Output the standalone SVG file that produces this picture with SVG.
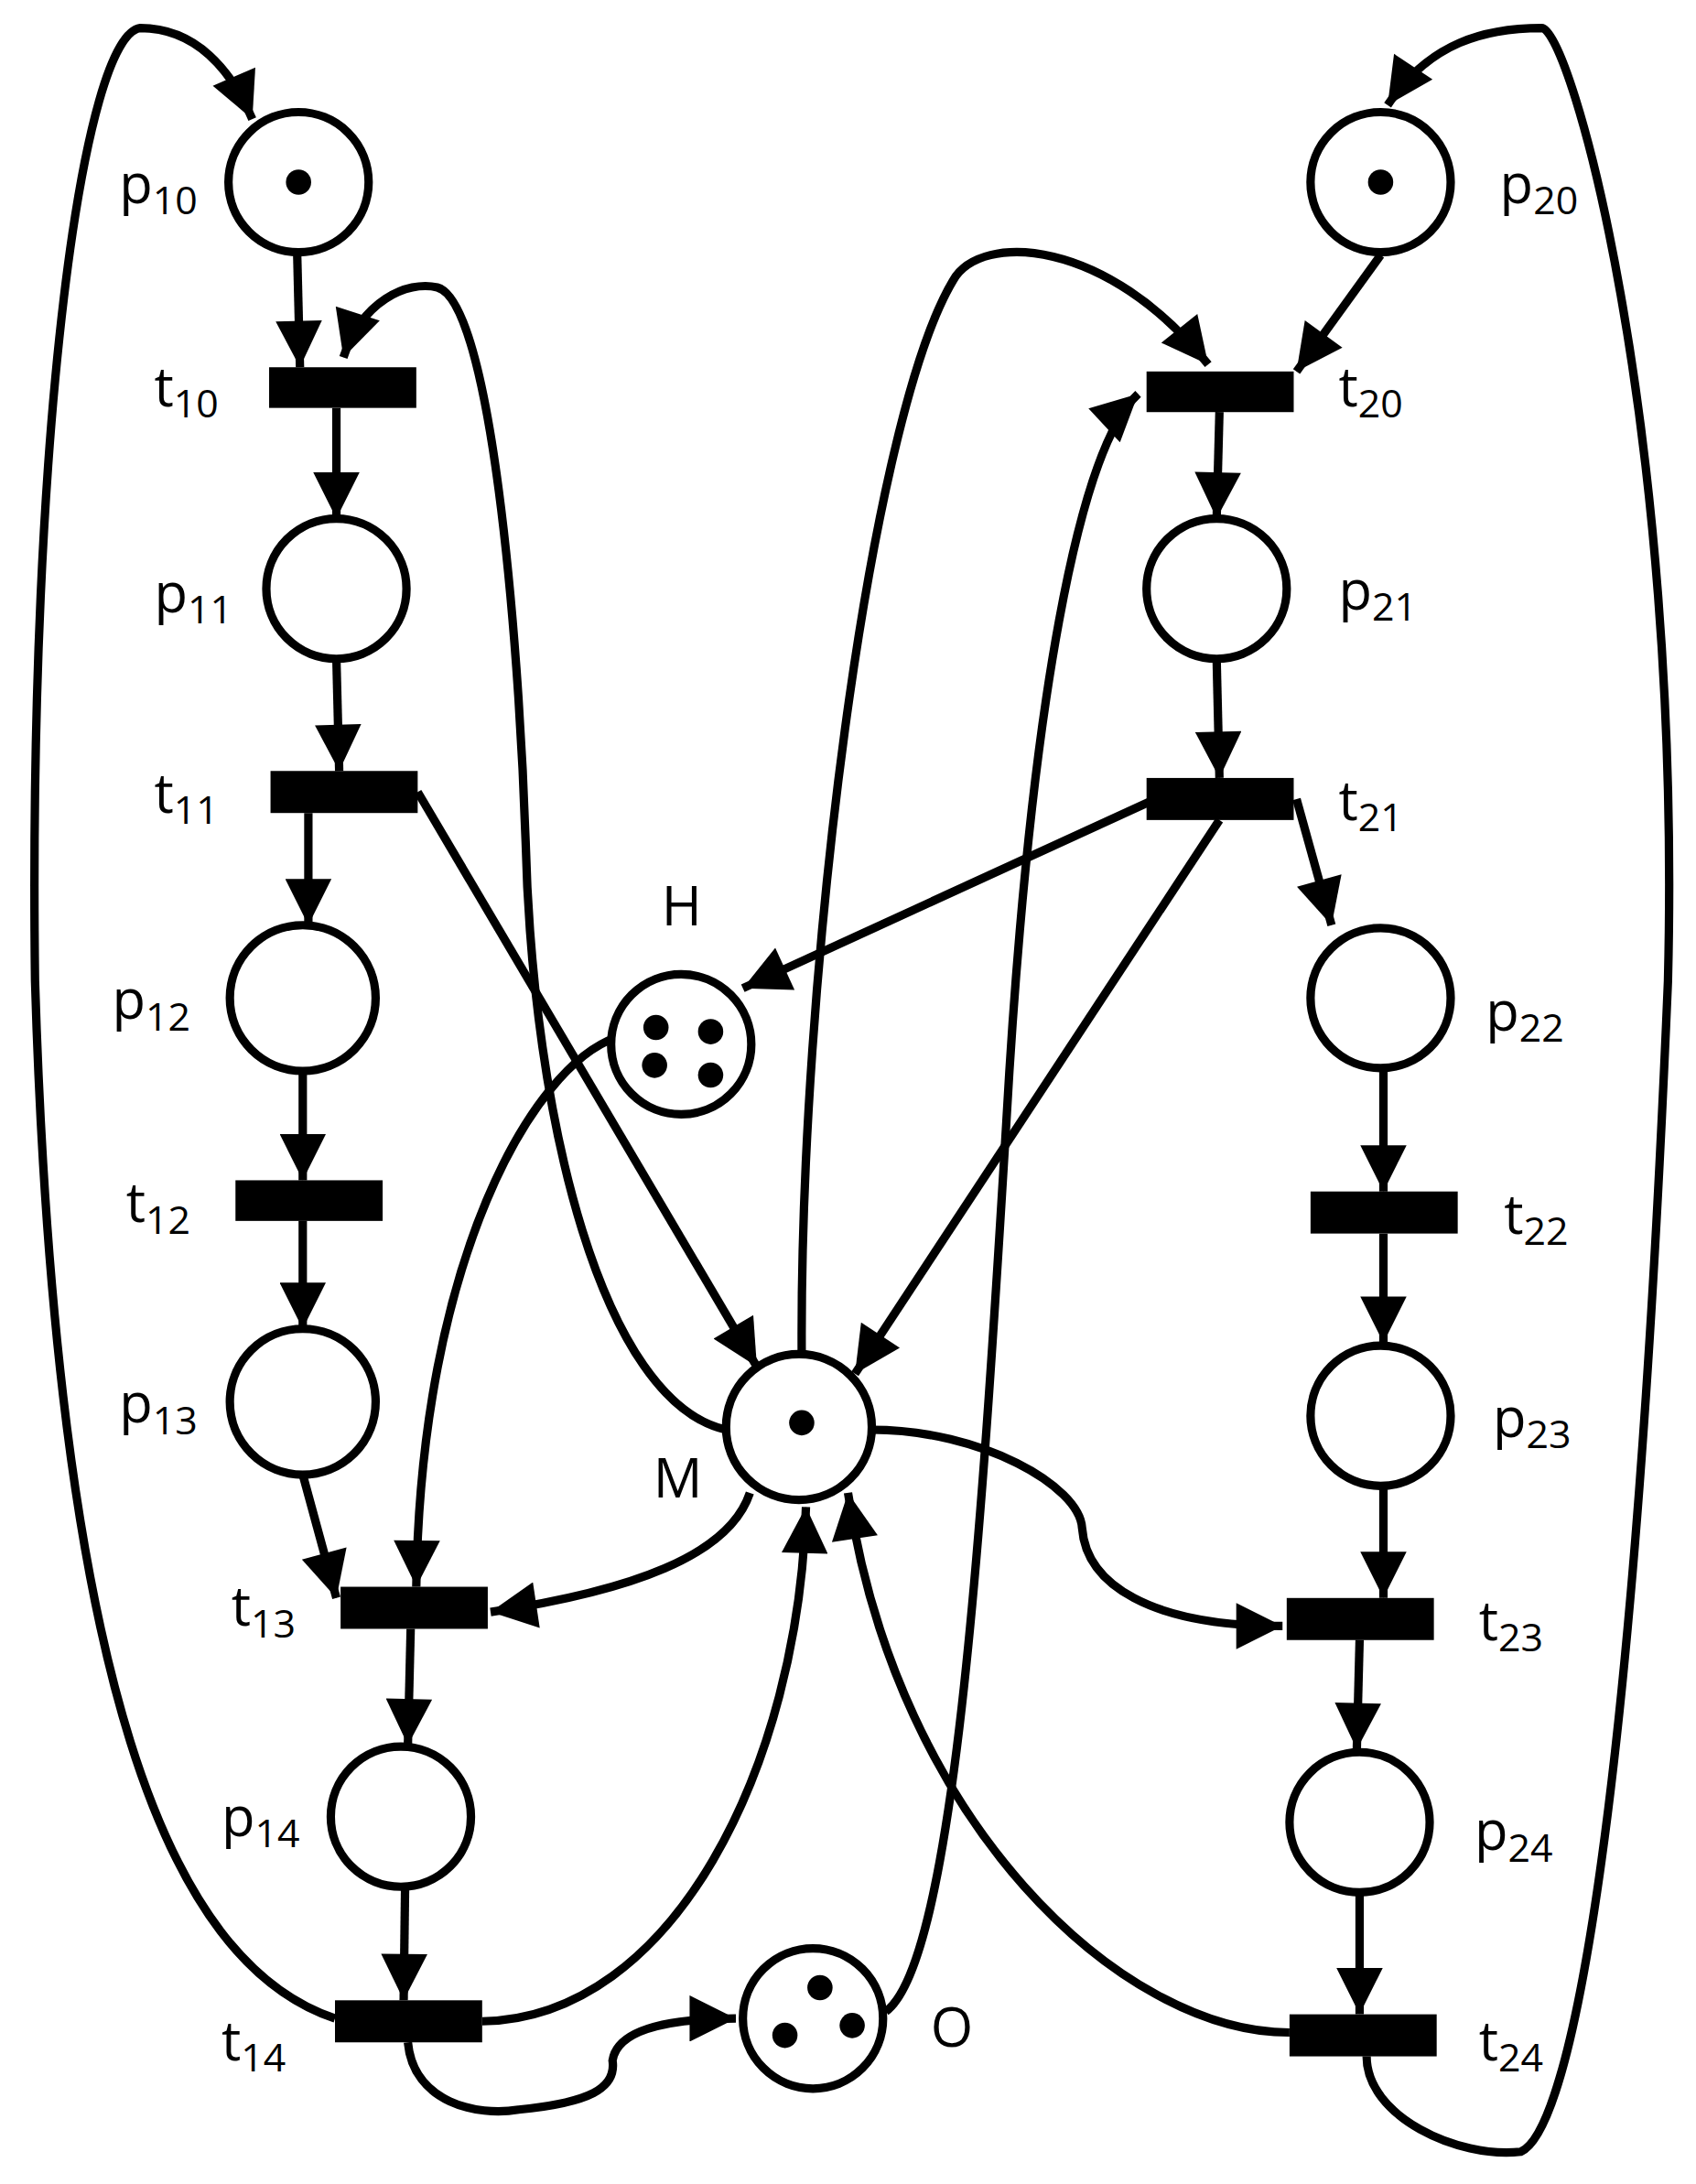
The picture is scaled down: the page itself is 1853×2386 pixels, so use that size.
<svg xmlns="http://www.w3.org/2000/svg" width="1853" height="2386" viewBox="0 0 1853 2386">
<defs>
<style>
.pl{fill:#fff;stroke:#000;stroke-width:6}
.tr{fill:#000}
.tk{fill:#000}
.e{fill:none;stroke:#000;stroke-width:6}
.lb{font-family:"Open Sans","Liberation Sans",sans-serif;font-size:39px;fill:#000}
.sb{font-size:28px}
</style>
<marker id="a" viewBox="0 0 10 10" refX="10" refY="5" markerWidth="6" markerHeight="5.5" orient="auto" markerUnits="strokeWidth"><path d="M0,0 L10,5 L0,10 z" fill="#000"/></marker>
</defs>
<rect width="1853" height="2386" fill="#fff"/>
<g transform="scale(1.5314)">
<g id="connectors" class="e" marker-end="url(#a)">
<path d="M239,1440 C120,1400 40,1200 25,700 C20,300 60,25 100,20 C140,20 165,50 180,85"/>
<path d="M212,180 L214,262"/>
<path d="M518,1020 C430,1000 380,800 375,600 C370,450 350,215 312,205 C290,200 258,215 245,255"/>
<path d="M240,291 L240,370"/>
<path d="M240,470 L242,550"/>
<path d="M220,580 L220,660"/>
<path d="M298,565 L540,975"/>
<path d="M216,764 L216,842"/>
<path d="M216,871 L216,948"/>
<path d="M216,1052 L240,1140"/>
<path d="M440,740 C380,760 300,900 297,1132"/>
<path d="M535,1065 C520,1110 450,1135 350,1150"/>
<path d="M293,1162 L291,1245"/>
<path d="M289,1347 L288,1427"/>
<path d="M344,1442 C480,1440 570,1260 575,1075"/>
<path d="M291,1457 C295,1500 340,1510 370,1505 C420,1500 440,1490 437,1470 C440,1450 470,1440 525,1440"/>
<path d="M632,1435 C680,1400 700,1100 718,800 C735,500 770,320 812,281"/>
<path d="M572,968 C570,700 620,300 680,200 C700,165 790,170 862,260"/>
<path d="M985,182 L925,265"/>
<path d="M870,294 L868,370"/>
<path d="M868,470 L870,555"/>
<path d="M820,572 L530,705"/>
<path d="M870,585 L610,980"/>
<path d="M925,570 L950,660"/>
<path d="M987,764 L987,850"/>
<path d="M987,880 L987,958"/>
<path d="M987,1062 L987,1140"/>
<path d="M622,1020 C700,1020 770,1060 772,1090 C775,1130 820,1160 915,1160"/>
<path d="M970,1170 L968,1248"/>
<path d="M970,1352 L970,1437"/>
<path d="M920,1450 C800,1450 640,1300 605,1065"/>
<path d="M975,1467 C975,1510 1040,1540 1085,1535 C1120,1520 1165,1300 1190,700 C1200,300 1120,20 1100,20 C1060,20 1020,30 990,75"/>
</g>
<g id="p10"><circle class="pl" cx="213" cy="130" r="50"/><circle class="tk" cx="213" cy="130" r="9"/><text class="lb" x="85" y="145">p<tspan class="sb" dy="8">10</tspan></text></g>
<g id="t10"><rect class="tr" x="192" y="262" width="105" height="29"/><text class="lb" x="110" y="290">t<tspan class="sb" dy="8">10</tspan></text></g>
<g id="p11"><circle class="pl" cx="240" cy="420" r="50"/><text class="lb" x="110" y="437">p<tspan class="sb" dy="8">11</tspan></text></g>
<g id="t11"><rect class="tr" x="193" y="550" width="105" height="30"/><text class="lb" x="110" y="580">t<tspan class="sb" dy="8">11</tspan></text></g>
<g id="p12"><circle class="pl" cx="216" cy="712" r="52"/><text class="lb" x="80" y="727">p<tspan class="sb" dy="8">12</tspan></text></g>
<g id="t12"><rect class="tr" x="168" y="842" width="105" height="29"/><text class="lb" x="90" y="872">t<tspan class="sb" dy="8">12</tspan></text></g>
<g id="p13"><circle class="pl" cx="216" cy="1000" r="52"/><text class="lb" x="85" y="1015">p<tspan class="sb" dy="8">13</tspan></text></g>
<g id="t13"><rect class="tr" x="243" y="1132" width="105" height="30"/><text class="lb" x="165" y="1160">t<tspan class="sb" dy="8">13</tspan></text></g>
<g id="p14"><circle class="pl" cx="286" cy="1296" r="50"/><text class="lb" x="158" y="1310">p<tspan class="sb" dy="8">14</tspan></text></g>
<g id="t14"><rect class="tr" x="239" y="1427" width="105" height="30"/><text class="lb" x="158" y="1470">t<tspan class="sb" dy="8">14</tspan></text></g>
<g id="H"><circle class="pl" cx="486" cy="745" r="50"/><circle class="tk" cx="468" cy="733" r="9"/><circle class="tk" cx="507" cy="736" r="9"/><circle class="tk" cx="467" cy="760" r="9"/><circle class="tk" cx="507" cy="767" r="9"/><text class="lb" x="472" y="660">H</text></g>
<g id="M"><circle class="pl" cx="570" cy="1018" r="52"/><circle class="tk" cx="572" cy="1015" r="9"/><text class="lb" x="466" y="1068">M</text></g>
<g id="O"><circle class="pl" cx="580" cy="1440" r="50"/><circle class="tk" cx="585" cy="1418" r="9"/><circle class="tk" cx="560" cy="1452" r="9"/><circle class="tk" cx="608" cy="1445" r="9"/><text class="lb" x="664" y="1460">O</text></g>
<g id="p20"><circle class="pl" cx="985" cy="130" r="50"/><circle class="tk" cx="985" cy="130" r="9"/><text class="lb" x="1070" y="145">p<tspan class="sb" dy="8">20</tspan></text></g>
<g id="t20"><rect class="tr" x="818" y="265" width="105" height="29"/><text class="lb" x="955" y="290">t<tspan class="sb" dy="8">20</tspan></text></g>
<g id="p21"><circle class="pl" cx="868" cy="420" r="50"/><text class="lb" x="955" y="435">p<tspan class="sb" dy="8">21</tspan></text></g>
<g id="t21"><rect class="tr" x="818" y="555" width="105" height="30"/><text class="lb" x="955" y="585">t<tspan class="sb" dy="8">21</tspan></text></g>
<g id="p22"><circle class="pl" cx="985" cy="712" r="50"/><text class="lb" x="1060" y="735">p<tspan class="sb" dy="8">22</tspan></text></g>
<g id="t22"><rect class="tr" x="935" y="850" width="105" height="30"/><text class="lb" x="1073" y="880">t<tspan class="sb" dy="8">22</tspan></text></g>
<g id="p23"><circle class="pl" cx="985" cy="1010" r="50"/><text class="lb" x="1065" y="1025">p<tspan class="sb" dy="8">23</tspan></text></g>
<g id="t23"><rect class="tr" x="918" y="1140" width="105" height="30"/><text class="lb" x="1055" y="1170">t<tspan class="sb" dy="8">23</tspan></text></g>
<g id="p24"><circle class="pl" cx="970" cy="1300" r="50"/><text class="lb" x="1052" y="1320">p<tspan class="sb" dy="8">24</tspan></text></g>
<g id="t24"><rect class="tr" x="920" y="1437" width="105" height="30"/><text class="lb" x="1055" y="1470">t<tspan class="sb" dy="8">24</tspan></text></g>
</g>
</svg>
